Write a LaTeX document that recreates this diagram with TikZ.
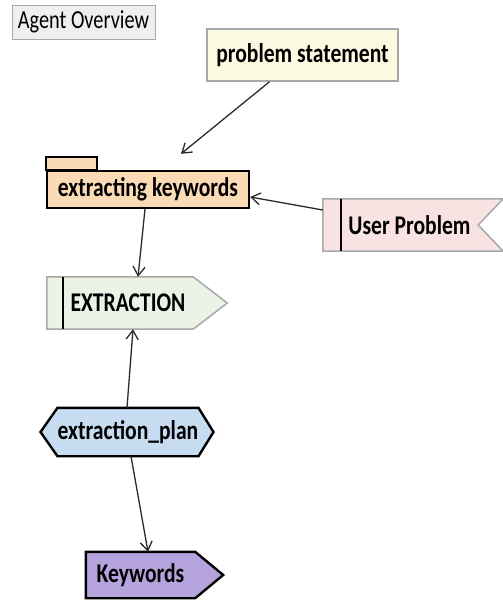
\documentclass[tikz,border=0pt]{standalone}
\usepackage{fontspec}
\usepackage{graphicx}
\setmainfont{Carlito}
\usetikzlibrary{arrows.meta,backgrounds}

\definecolor{ovfill}{HTML}{EFEFEF}
\definecolor{psfill}{HTML}{FCFAE0}
\definecolor{ekfill}{HTML}{FBDBB5}
\definecolor{upfill}{HTML}{F8E2E2}
\definecolor{exfill}{HTML}{EAF3E5}
\definecolor{epfill}{HTML}{C7DCF0}
\definecolor{kwfill}{HTML}{B5A3DD}
\definecolor{softedge}{HTML}{A8A8A8}
\definecolor{linkcol}{HTML}{2A2A2A}

% narrow set of the label font
\newcommand{\sqz}[1]{\scalebox{0.8}[1]{#1}}
\newcommand{\sqzt}[1]{\scalebox{0.78}[1]{#1}}

\tikzset{
  body/.style={inner sep=0pt, minimum width=#1},
  labeltext/.style={font=\fontsize{27}{30}\selectfont\bfseries},
  softline/.style={draw=softedge, line width=1.5pt},
  hardline/.style={draw=black, line width=2.4pt},
  link/.style={draw=linkcol, line width=1.3pt,
    -{Straight Barb[length=9pt,width=12pt,line width=1.3pt]}},
}

\begin{document}
\begin{tikzpicture}[x=1pt,y=1pt]
\useasboundingbox (0,0) rectangle (503,-605);

% title tag
\node[body=143pt, minimum height=34pt, fill=ovfill, draw=softedge, line width=1pt,
      font=\fontsize{26}{28}\selectfont] (ov) at (83.5,-22) {\sqzt{Agent Overview}};

% plain boxes
\node[body=191pt, minimum height=52pt, fill=psfill, softline, labeltext]
      (ps) at (302.5,-55) {\sqz{problem statement}};
\node[body=202pt, minimum height=37pt, fill=ekfill, hardline, labeltext]
      (ek) at (148,-189.5) {\sqz{extracting keywords}};

% shaped items: the node is the text area, the outline is drawn behind it
\node[body=137pt, minimum height=52pt, labeltext] (up) at (409.5,-225) {\sqz{User Problem}};
\node[body=130pt, minimum height=52pt, labeltext] (ex) at (128,-303) {\sqz{EXTRACTION}};
\node[body=134pt, minimum height=48pt, labeltext] (ep) at (128,-432) {\sqz{extraction\_plan}};
\node[body=109pt, minimum height=46pt, labeltext] (kw) at (140.5,-575) {\sqz{Keywords}};

\begin{scope}[on background layer]
  % folder tab of the package box
  \draw[hardline, fill=ekfill] (ek.north west) rectangle ([xshift=51pt,yshift=13pt]ek.north west);
  % received event
  \draw[softline, fill=upfill]
    ([xshift=-18pt]up.north west) -- ([xshift=25pt]up.north east) -- (up.east)
    -- ([xshift=25pt]up.south east) -- ([xshift=-18pt]up.south west) -- cycle;
  \draw[black, line width=2pt] (up.north west) -- (up.south west);
  % sent signal
  \draw[softline, fill=exfill]
    ([xshift=-16pt]ex.north west) -- (ex.north east) -- ([xshift=34pt]ex.east)
    -- (ex.south east) -- ([xshift=-16pt]ex.south west) -- cycle;
  \draw[black, line width=2pt] (ex.north west) -- (ex.south west);
  % plan hexagon
  \draw[hardline, fill=epfill]
    (ep.north west) -- (ep.north east) -- ([xshift=15pt]ep.east)
    -- (ep.south east) -- (ep.south west) -- ([xshift=-17pt]ep.west) -- cycle;
  % output pentagon
  \draw[hardline, fill=kwfill]
    (kw.north west) -- (kw.north east) -- ([xshift=28pt]kw.east)
    -- (kw.south east) -- (kw.south west) -- cycle;
\end{scope}

% connectors
\draw[link] ([xshift=-33pt]ps.south) -- ([xshift=33pt,yshift=16pt]ek.north);
\draw[link] ([xshift=-18pt,yshift=15pt]up.west) -- ([yshift=-7.5pt]ek.east);
\draw[link] ([xshift=-3pt]ek.south) -- ([xshift=10pt]ex.north);
\draw[link] ([xshift=-1pt]ep.north) -- ([xshift=5pt]ex.south);
\draw[link] ([xshift=3pt]ep.south) -- ([xshift=7.5pt]kw.north);
\end{tikzpicture}
\end{document}
